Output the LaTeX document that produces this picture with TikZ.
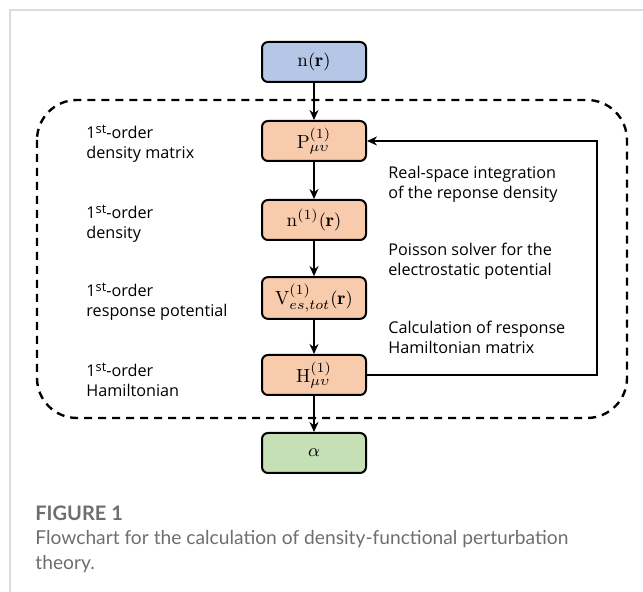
\documentclass[tikz,border=0pt]{standalone}
\usepackage{fontspec}
\usepackage{amsmath}
\setsansfont{Open Sans}
\newfontfamily\capfont{Lato}
\usetikzlibrary{arrows.meta}

\definecolor{inblue}{HTML}{B4C7E7}
\definecolor{stepor}{HTML}{F8CBAD}
\definecolor{outgreen}{HTML}{C5E0B4}
\definecolor{capgray}{HTML}{6E6E6E}
\definecolor{framegray}{HTML}{DCDCDC}

\newcommand{\ordst}{1\raisebox{0.55ex}{\fontsize{6.4}{7}\selectfont st}-order}

\tikzstyle{boxbase} = [rectangle, draw, line width=1pt, rounded corners=3pt,
    minimum width=52pt, minimum height=20pt, font=\fontsize{9.5}{11}\selectfont]
\tikzstyle{inbox} = [boxbase, fill=inblue]
\tikzstyle{stepbox} = [boxbase, fill=stepor]
\tikzstyle{outbox} = [boxbase, fill=outgreen]
\tikzstyle{leftlab} = [anchor=west, align=left, inner sep=0pt,
    font=\sffamily\fontsize{8.1}{10}\selectfont]
\tikzstyle{rightlab} = [leftlab]
\tikzstyle{flow} = [line width=0.9pt, -{Stealth[length=5pt,width=4.5pt]}]

\begin{document}
\begin{tikzpicture}[x=0.5pt, y=-0.5pt]
	\useasboundingbox (0,0) rectangle (643,592);
	\draw[framegray, line width=0.6pt] (10,592) -- (10,10) -- (643,10);
	%
	\node [inbox] (nr) at (314,62) {$\mathrm{n}(\mathbf{r})$};
	\node [stepbox] (pmat) at (314,141) {$\mathrm{P}^{(1)}_{\mu\upsilon}$};
	\node [stepbox] (nfirst) at (314,220) {$\mathrm{n}^{(1)}(\mathbf{r})$};
	\node [stepbox] (vpot) at (314,298) {$\mathrm{V}^{(1)}_{es,tot}(\mathbf{r})$};
	\node [stepbox] (hmat) at (314,375) {$\mathrm{H}^{(1)}_{\mu\upsilon}$};
	\node [outbox] (alpha) at (314,453) {$\alpha$};
	%
	\draw[dashed, line width=1.2pt, dash pattern=on 4pt off 3pt, rounded corners=20pt]
		(37,100) rectangle (627,418);
	%
	\node [leftlab] (lpmat) at (86,144) {\ordst\\density matrix};
	\node [leftlab] (lnfirst) at (86,224) {\ordst\\density};
	\node [leftlab] (lvpot) at (86,302) {\ordst\\response potential};
	\node [leftlab] (lhmat) at (86,380) {\ordst\\Hamiltonian};
	%
	\node [rightlab] (rint) at (388,184) {Real-space integration\\of the reponse density};
	\node [rightlab] (rpois) at (388,261) {Poisson solver for the\\electrostatic potential};
	\node [rightlab] (rham) at (388,337) {Calculation of response\\Hamiltonian matrix};
	%
	\coordinate (fb) at (597,141);
	\draw[flow] (nr) -- (pmat);
	\draw[flow] (pmat) -- (nfirst);
	\draw[flow] (nfirst) -- (vpot);
	\draw[flow] (vpot) -- (hmat);
	\draw[flow] (hmat) -- (alpha);
	\draw[flow] (hmat.east) -| (fb) -- (pmat.east);
	%
	\node [anchor=west, inner sep=0pt, text=capgray, font=\capfont\bfseries\fontsize{10}{12}\selectfont]
		(capt) at (35,513) {FIGURE 1};
	\node [anchor=north west, align=left, inner sep=0pt, text=capgray,
		font=\capfont\fontsize{9.6}{12.5}\selectfont] (capx) at (35,530)
		{Flowchart for the calculation of density-functional perturbation\\theory.};
\end{tikzpicture}
\end{document}
